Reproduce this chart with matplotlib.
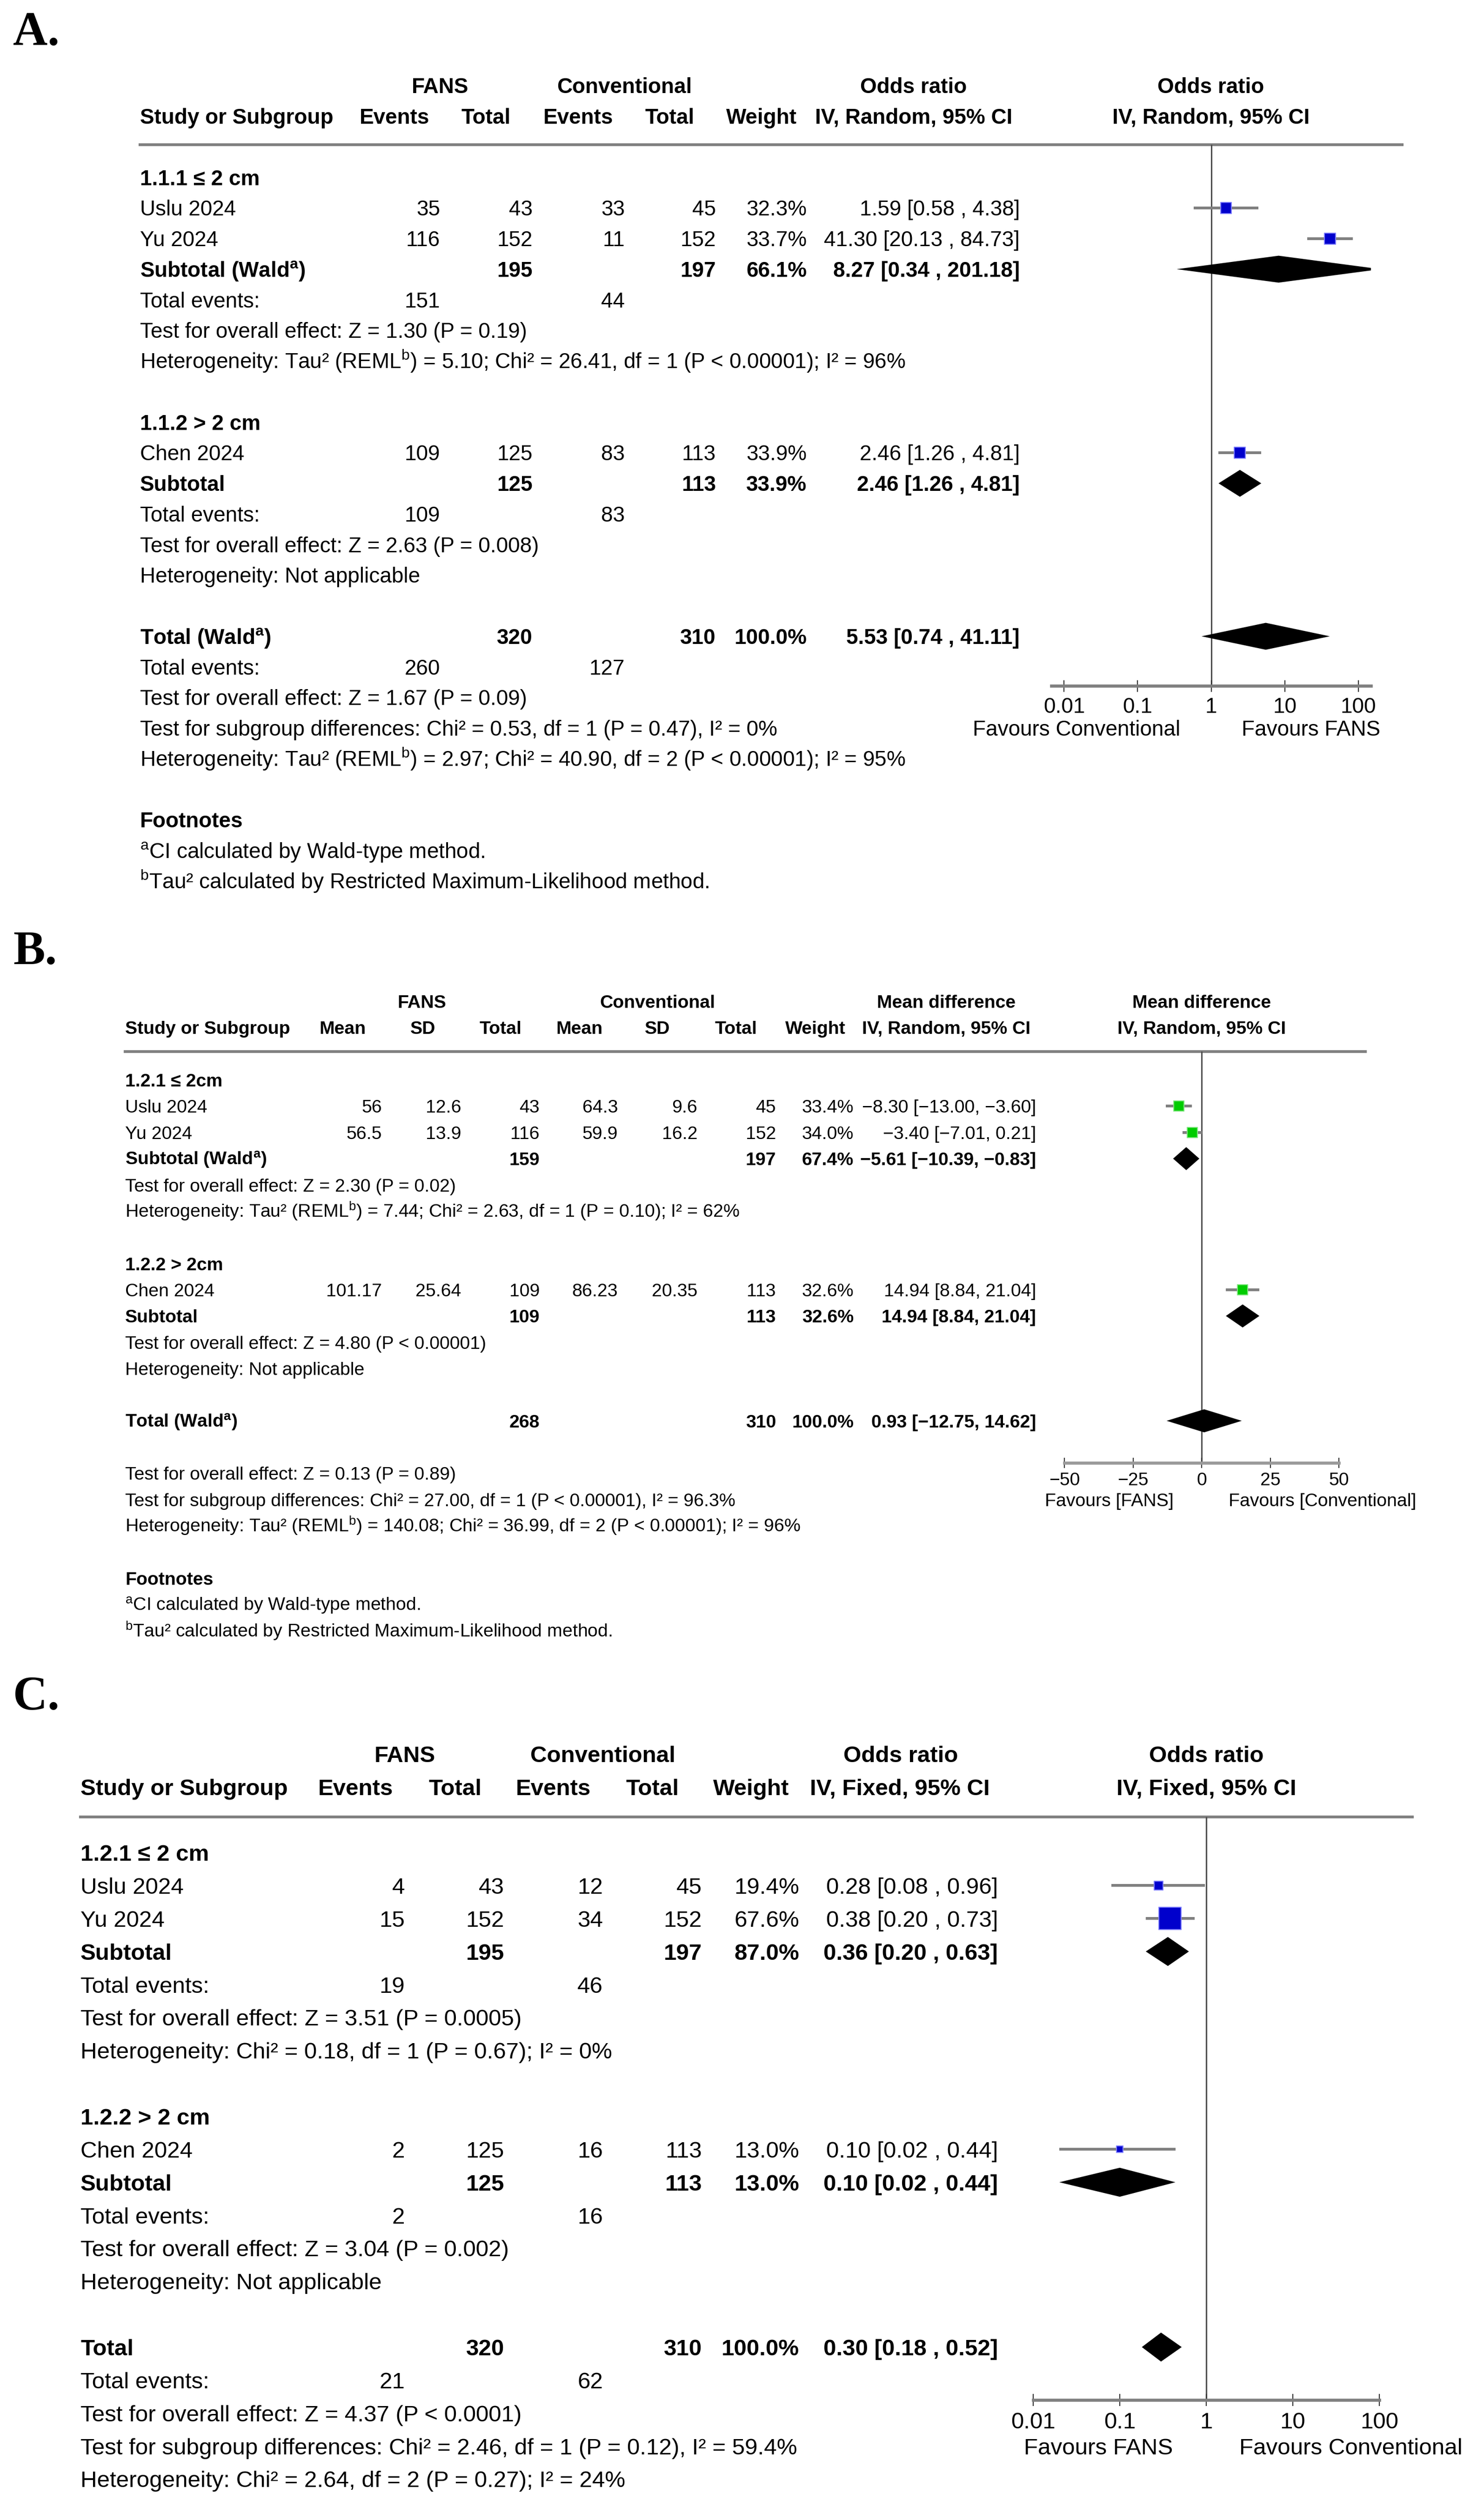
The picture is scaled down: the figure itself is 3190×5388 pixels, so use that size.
import matplotlib
matplotlib.use("Agg")
import matplotlib.pyplot as plt
from matplotlib.patches import Polygon
from matplotlib.ticker import NullLocator

plt.rcParams["font.family"] = ["Liberation Sans", "DejaVu Sans"]
plt.rcParams["mathtext.fontset"] = "custom"
plt.rcParams["mathtext.rm"] = "Liberation Sans"
plt.rcParams["mathtext.it"] = "Liberation Sans:italic"
plt.rcParams["mathtext.bf"] = "Liberation Sans:bold"

W, H = 3190, 5388
SA = r"$^{\mathrm{a}}$"
SB = r"$^{\mathrm{b}}$"
SA_BOLD = r"$^{\mathbf{a}}$"

FOOTNOTES = ["Footnotes",
             SA + "CI calculated by Wald-type method.",
             SB + "Tau² calculated by Restricted Maximum-Likelihood method."]

# ---------------- A. odds ratio, IV random ----------------
A_top_headers = ["FANS", "Conventional", "Odds ratio", "Odds ratio"]
A_col_headers = ["Events", "Total", "Events", "Total", "Weight",
                 "IV, Random, 95% CI", "IV, Random, 95% CI"]
A_groups = ["1.1.1 ≤ 2 cm", "1.1.2 > 2 cm"]
A_studies = ["Uslu 2024", "Yu 2024", "Chen 2024"]
A_study_group = [0, 0, 1]
A_fans_events = [35, 116, 109]
A_fans_total = [43, 152, 125]
A_conv_events = [33, 11, 83]
A_conv_total = [45, 152, 113]
A_weight = [32.3, 33.7, 33.9]
A_or = [1.59, 41.30, 2.46]
A_or_lo = [0.58, 20.13, 1.26]
A_or_hi = [4.38, 84.73, 4.81]
A_sub_labels = ["Subtotal (Wald" + SA_BOLD + ")", "Subtotal"]
A_sub_fans_total = [195, 125]
A_sub_conv_total = [197, 113]
A_sub_fans_events = [151, 109]
A_sub_conv_events = [44, 83]
A_sub_weight = [66.1, 33.9]
A_sub_or = [8.27, 2.46]
A_sub_lo = [0.34, 1.26]
A_sub_hi = [201.18, 4.81]
A_sub_tests = ["Test for overall effect: Z = 1.30 (P = 0.19)",
               "Test for overall effect: Z = 2.63 (P = 0.008)"]
A_sub_hets = ["Heterogeneity: Tau² (REML" + SB + ") = 5.10; Chi² = 26.41, df = 1 (P < 0.00001); I² = 96%",
              "Heterogeneity: Not applicable"]
A_total_label = "Total (Wald" + SA_BOLD + ")"
A_total_fans = 320
A_total_conv = 310
A_total_events_fans = 260
A_total_events_conv = 127
A_total_weight = 100.0
A_total_or = [5.53, 0.74, 41.11]
A_total_lines = ["Test for overall effect: Z = 1.67 (P = 0.09)",
                 "Test for subgroup differences: Chi² = 0.53, df = 1 (P = 0.47), I² = 0%",
                 "Heterogeneity: Tau² (REML" + SB + ") = 2.97; Chi² = 40.90, df = 2 (P < 0.00001); I² = 95%"]
A_ticks = [0.01, 0.1, 1, 10, 100]
A_tick_labels = ["0.01", "0.1", "1", "10", "100"]
A_favours = ["Favours Conventional", "Favours FANS"]

# ---------------- B. mean difference, IV random ----------------
B_top_headers = ["FANS", "Conventional", "Mean difference", "Mean difference"]
B_col_headers = ["Mean", "SD", "Total", "Mean", "SD", "Total", "Weight",
                 "IV, Random, 95% CI", "IV, Random, 95% CI"]
B_groups = ["1.2.1 ≤ 2cm", "1.2.2 > 2cm"]
B_studies = ["Uslu 2024", "Yu 2024", "Chen 2024"]
B_study_group = [0, 0, 1]
B_fans_mean = [56, 56.5, 101.17]
B_fans_sd = [12.6, 13.9, 25.64]
B_fans_total = [43, 116, 109]
B_conv_mean = [64.3, 59.9, 86.23]
B_conv_sd = [9.6, 16.2, 20.35]
B_conv_total = [45, 152, 113]
B_weight = [33.4, 34.0, 32.6]
B_md = [-8.30, -3.40, 14.94]
B_md_lo = [-13.00, -7.01, 8.84]
B_md_hi = [-3.60, 0.21, 21.04]
B_sub_labels = ["Subtotal (Wald" + SA_BOLD + ")", "Subtotal"]
B_sub_fans_total = [159, 109]
B_sub_conv_total = [197, 113]
B_sub_weight = [67.4, 32.6]
B_sub_md = [-5.61, 14.94]
B_sub_lo = [-10.39, 8.84]
B_sub_hi = [-0.83, 21.04]
B_sub_tests = ["Test for overall effect: Z = 2.30 (P = 0.02)",
               "Test for overall effect: Z = 4.80 (P < 0.00001)"]
B_sub_hets = ["Heterogeneity: Tau² (REML" + SB + ") = 7.44; Chi² = 2.63, df = 1 (P = 0.10); I² = 62%",
              "Heterogeneity: Not applicable"]
B_total_label = "Total (Wald" + SA_BOLD + ")"
B_total_fans = 268
B_total_conv = 310
B_total_weight = 100.0
B_total_md = [0.93, -12.75, 14.62]
B_total_lines = ["Test for overall effect: Z = 0.13 (P = 0.89)",
                 "Test for subgroup differences: Chi² = 27.00, df = 1 (P < 0.00001), I² = 96.3%",
                 "Heterogeneity: Tau² (REML" + SB + ") = 140.08; Chi² = 36.99, df = 2 (P < 0.00001); I² = 96%"]
B_ticks = [-50, -25, 0, 25, 50]
B_tick_labels = ["−50", "−25", "0", "25", "50"]
B_favours = ["Favours [FANS]", "Favours [Conventional]"]

# ---------------- C. odds ratio, IV fixed ----------------
C_top_headers = ["FANS", "Conventional", "Odds ratio", "Odds ratio"]
C_col_headers = ["Events", "Total", "Events", "Total", "Weight",
                 "IV, Fixed, 95% CI", "IV, Fixed, 95% CI"]
C_groups = ["1.2.1 ≤ 2 cm", "1.2.2 > 2 cm"]
C_studies = ["Uslu 2024", "Yu 2024", "Chen 2024"]
C_study_group = [0, 0, 1]
C_fans_events = [4, 15, 2]
C_fans_total = [43, 152, 125]
C_conv_events = [12, 34, 16]
C_conv_total = [45, 152, 113]
C_weight = [19.4, 67.6, 13.0]
C_or = [0.28, 0.38, 0.10]
C_or_lo = [0.08, 0.20, 0.02]
C_or_hi = [0.96, 0.73, 0.44]
C_sub_labels = ["Subtotal", "Subtotal"]
C_sub_fans_total = [195, 125]
C_sub_conv_total = [197, 113]
C_sub_fans_events = [19, 2]
C_sub_conv_events = [46, 16]
C_sub_weight = [87.0, 13.0]
C_sub_or = [0.36, 0.10]
C_sub_lo = [0.20, 0.02]
C_sub_hi = [0.63, 0.44]
C_sub_tests = ["Test for overall effect: Z = 3.51 (P = 0.0005)",
               "Test for overall effect: Z = 3.04 (P = 0.002)"]
C_sub_hets = ["Heterogeneity: Chi² = 0.18, df = 1 (P = 0.67); I² = 0%",
              "Heterogeneity: Not applicable"]
C_total_label = "Total"
C_total_fans = 320
C_total_conv = 310
C_total_events_fans = 21
C_total_events_conv = 62
C_total_weight = 100.0
C_total_or = [0.30, 0.18, 0.52]
C_total_lines = ["Test for overall effect: Z = 4.37 (P < 0.0001)",
                 "Test for subgroup differences: Chi² = 2.46, df = 1 (P = 0.12), I² = 59.4%",
                 "Heterogeneity: Chi² = 2.64, df = 2 (P = 0.27); I² = 24%"]
C_ticks = A_ticks
C_tick_labels = A_tick_labels
C_favours = ["Favours FANS", "Favours Conventional"]

# layout of each panel, in output pixels
GA = dict(y0=184, dy=65.75, fs=33, letter_base=97, x_study=301,
          top_x=[946, 1342, 1964, 2603], head_x=[848, 1045, 1243, 1440, 1637, 1964, 2603],
          col_right=[946, 1145, 1343, 1539], weight_right=1734, ci_right=2192, ci_sep=" , ",
          line_py=310.6, line_x=(301, 3014), fx=(2260, 2947), axis_py=1474,
          xlim=(10 ** -2.174, 10 ** 2.174), log=True, ref=1, fav_x=(2314, 2818),
          k_sq=1.74, tick_len=18, tick_pad=8.3, face="#0000cc", edge="#8080ff",
          axis_color="#808080")
GB = dict(y0=2152, dy=56.35, fs=28.3, letter_base=2072, x_study=269,
          top_x=[907, 1413, 2034, 2583],
          head_x=[736, 909, 1076, 1245, 1413, 1582, 1753, 2034, 2583],
          col_right=[821, 991, 1160, 1328, 1499, 1668], weight_right=1835, ci_right=2227,
          ci_sep=", ",
          line_py=2259.6, line_x=(269, 2935), fx=(2288, 2878), axis_py=3143.75,
          xlim=(-50, 50), log=False, ref=0, fav_x=(2384, 2843),
          k_sq=1.58, tick_len=16, tick_pad=6.5, face="#00cc00", edge="#80e680",
          axis_color="#9a9a9a")
GC = dict(y0=3769, dy=70.85, fs=35.5, letter_base=3674, x_study=173,
          top_x=[870, 1296, 1936, 2593], head_x=[764, 979, 1189, 1402, 1615, 1934, 2593],
          col_right=[870, 1084, 1296, 1509], weight_right=1718, ci_right=2145, ci_sep=" , ",
          line_py=3904.8, line_x=(173, 3036), fx=(2221, 2965), axis_py=5158,
          xlim=(0.01, 100), log=True, ref=1, fav_x=(2361, 2904),
          k_sq=2.05, tick_len=19, tick_pad=9.4, face="#0000cc", edge="#8080ff",
          axis_color="#808080")


def px_rect(left, top, right, bottom):
    return [left / W, 1 - bottom / H, (right - left) / W, (bottom - top) / H]


def ci_text(e, l, h, sep):
    return f"{e:.2f} [{l:.2f}{sep}{h:.2f}]".replace("-", "−")


def draw_panel(fig, g, letter, top_headers, col_headers, groups, studies, study_group,
               study_cols, weights, est, lo, hi, sub_labels, sub_cols, sub_weights,
               sub_est, sub_lo, sub_hi, sub_events, sub_tests, sub_hets,
               total_label, total_cols, total_weight, total_est, total_events,
               total_lines, ticks, tick_labels, favours, footnotes):
    y0, dy, fs = g["y0"], g["dy"], g["fs"]
    em = fs * 100 / 72
    base = 0.358 * em / dy  # row centre -> text baseline, in rows
    sep = g["ci_sep"]

    tab = fig.add_axes(px_rect(0, y0 - 2 * dy, W, y0 + 28 * dy))
    tab.set_xlim(0, W)
    tab.set_ylim(28, -2)
    tab.axis("off")

    def put(x, r, s, ha="left", bold=False):
        tab.text(x, r + base, s, ha=ha, va="baseline", fontsize=fs,
                 fontweight="bold" if bold else "normal")

    fig.text(28 / W, 1 - g["letter_base"] / H, letter, fontsize=74, fontweight="bold",
             family="Liberation Serif", va="baseline")

    xs, cr = g["x_study"], g["col_right"]
    for s, x in zip(top_headers, g["top_x"]):
        put(x, 0, s, ha="center", bold=True)
    put(xs, 1, "Study or Subgroup", bold=True)
    for s, x in zip(col_headers, g["head_x"]):
        put(x, 1, s, ha="center", bold=True)

    r = 3
    study_rows = [0] * len(studies)
    sub_rows = []
    for gi, gname in enumerate(groups):
        put(xs, r, gname, bold=True)
        r += 1
        for si in [i for i, k in enumerate(study_group) if k == gi]:
            study_rows[si] = r
            put(xs, r, studies[si])
            for c, col in enumerate(study_cols):
                put(cr[c], r, f"{col[si]:g}", ha="right")
            put(g["weight_right"], r, f"{weights[si]:.1f}%", ha="right")
            put(g["ci_right"], r, ci_text(est[si], lo[si], hi[si], sep), ha="right")
            r += 1
        sub_rows.append(r)
        put(xs, r, sub_labels[gi], bold=True)
        for c, col in sub_cols.items():
            put(cr[c], r, f"{col[gi]:g}", ha="right", bold=True)
        put(g["weight_right"], r, f"{sub_weights[gi]:.1f}%", ha="right", bold=True)
        put(g["ci_right"], r, ci_text(sub_est[gi], sub_lo[gi], sub_hi[gi], sep),
            ha="right", bold=True)
        r += 1
        if sub_events:
            put(xs, r, "Total events:")
            for c, col in sub_events.items():
                put(cr[c], r, f"{col[gi]:g}", ha="right")
            r += 1
        put(xs, r, sub_tests[gi])
        put(xs, r + 1, sub_hets[gi])
        r += 3

    total_row = r
    put(xs, r, total_label, bold=True)
    for c, v in total_cols.items():
        put(cr[c], r, f"{v:g}", ha="right", bold=True)
    put(g["weight_right"], r, f"{total_weight:.1f}%", ha="right", bold=True)
    put(g["ci_right"], r, ci_text(*total_est, sep), ha="right", bold=True)
    r += 1
    if total_events:
        put(xs, r, "Total events:")
        for c, v in total_events.items():
            put(cr[c], r, f"{v:g}", ha="right")
    r += 1
    for line in total_lines:
        put(xs, r, line)
        r += 1
    fav_row = r - 2
    put(g["fav_x"][0], fav_row, favours[0], ha="center")
    put(g["fav_x"][1], fav_row, favours[1], ha="center")
    if footnotes:
        r += 1
        put(xs, r, footnotes[0], bold=True)
        for i, s in enumerate(footnotes[1:]):
            put(xs, r + 1 + i, s)

    # header rule
    r_line = (g["line_py"] - y0) / dy
    r_axis = (g["axis_py"] - y0) / dy
    tab.axhline(r_line, xmin=g["line_x"][0] / W, xmax=g["line_x"][1] / W,
                color="#808080", lw=4.3)

    # forest plot
    fa = fig.add_axes(px_rect(g["fx"][0], g["line_py"], g["fx"][1], g["axis_py"]))
    fa.patch.set_alpha(0)
    if g["log"]:
        fa.set_xscale("log")
    fa.set_xlim(*g["xlim"])
    fa.set_ylim(r_axis, r_line)
    for s in ("top", "left", "right"):
        fa.spines[s].set_visible(False)
    fa.spines["bottom"].set_color(g["axis_color"])
    fa.spines["bottom"].set_linewidth(4.8)
    fa.set_yticks([])
    fa.set_xticks(ticks)
    fa.set_xticklabels(tick_labels)
    fa.xaxis.set_minor_locator(NullLocator())
    fa.tick_params(axis="x", direction="inout", length=g["tick_len"], width=1.6,
                   color="#333333", pad=g["tick_pad"], labelsize=fs)
    fa.axvline(g["ref"], color="#4d4d4d", lw=2.2, zorder=1)
    fa.hlines(study_rows, lo, hi, color="#808080", lw=4.3, zorder=2)
    sizes = [(g["k_sq"] * w ** 0.75 * 0.72) ** 2 for w in weights]
    fa.scatter(est, study_rows, s=sizes, marker="s", c=g["face"], edgecolors=g["edge"],
               linewidths=1.5, zorder=3)
    h = 0.44
    d_rows = sub_rows + [total_row]
    d_est = list(sub_est) + [total_est[0]]
    d_lo = list(sub_lo) + [total_est[1]]
    d_hi = list(sub_hi) + [total_est[2]]
    for rr, e, l, u in zip(d_rows, d_est, d_lo, d_hi):
        fa.add_patch(Polygon([(l, rr), (e, rr - h), (u, rr), (e, rr + h)], closed=True,
                             fc="black", ec="none", zorder=3))


fig = plt.figure(figsize=(W / 100, H / 100), dpi=100, facecolor="white")

draw_panel(fig, GA, "A.", A_top_headers, A_col_headers, A_groups, A_studies, A_study_group,
           [A_fans_events, A_fans_total, A_conv_events, A_conv_total],
           A_weight, A_or, A_or_lo, A_or_hi, A_sub_labels,
           {1: A_sub_fans_total, 3: A_sub_conv_total}, A_sub_weight,
           A_sub_or, A_sub_lo, A_sub_hi, {0: A_sub_fans_events, 2: A_sub_conv_events},
           A_sub_tests, A_sub_hets, A_total_label, {1: A_total_fans, 3: A_total_conv},
           A_total_weight, A_total_or, {0: A_total_events_fans, 2: A_total_events_conv},
           A_total_lines, A_ticks, A_tick_labels, A_favours, FOOTNOTES)

draw_panel(fig, GB, "B.", B_top_headers, B_col_headers, B_groups, B_studies, B_study_group,
           [B_fans_mean, B_fans_sd, B_fans_total, B_conv_mean, B_conv_sd, B_conv_total],
           B_weight, B_md, B_md_lo, B_md_hi, B_sub_labels,
           {2: B_sub_fans_total, 5: B_sub_conv_total}, B_sub_weight,
           B_sub_md, B_sub_lo, B_sub_hi, None,
           B_sub_tests, B_sub_hets, B_total_label, {2: B_total_fans, 5: B_total_conv},
           B_total_weight, B_total_md, None,
           B_total_lines, B_ticks, B_tick_labels, B_favours, FOOTNOTES)

draw_panel(fig, GC, "C.", C_top_headers, C_col_headers, C_groups, C_studies, C_study_group,
           [C_fans_events, C_fans_total, C_conv_events, C_conv_total],
           C_weight, C_or, C_or_lo, C_or_hi, C_sub_labels,
           {1: C_sub_fans_total, 3: C_sub_conv_total}, C_sub_weight,
           C_sub_or, C_sub_lo, C_sub_hi, {0: C_sub_fans_events, 2: C_sub_conv_events},
           C_sub_tests, C_sub_hets, C_total_label, {1: C_total_fans, 3: C_total_conv},
           C_total_weight, C_total_or, {0: C_total_events_fans, 2: C_total_events_conv},
           C_total_lines, C_ticks, C_tick_labels, C_favours, None)

fig.savefig("out.png", dpi=100, facecolor="white")
